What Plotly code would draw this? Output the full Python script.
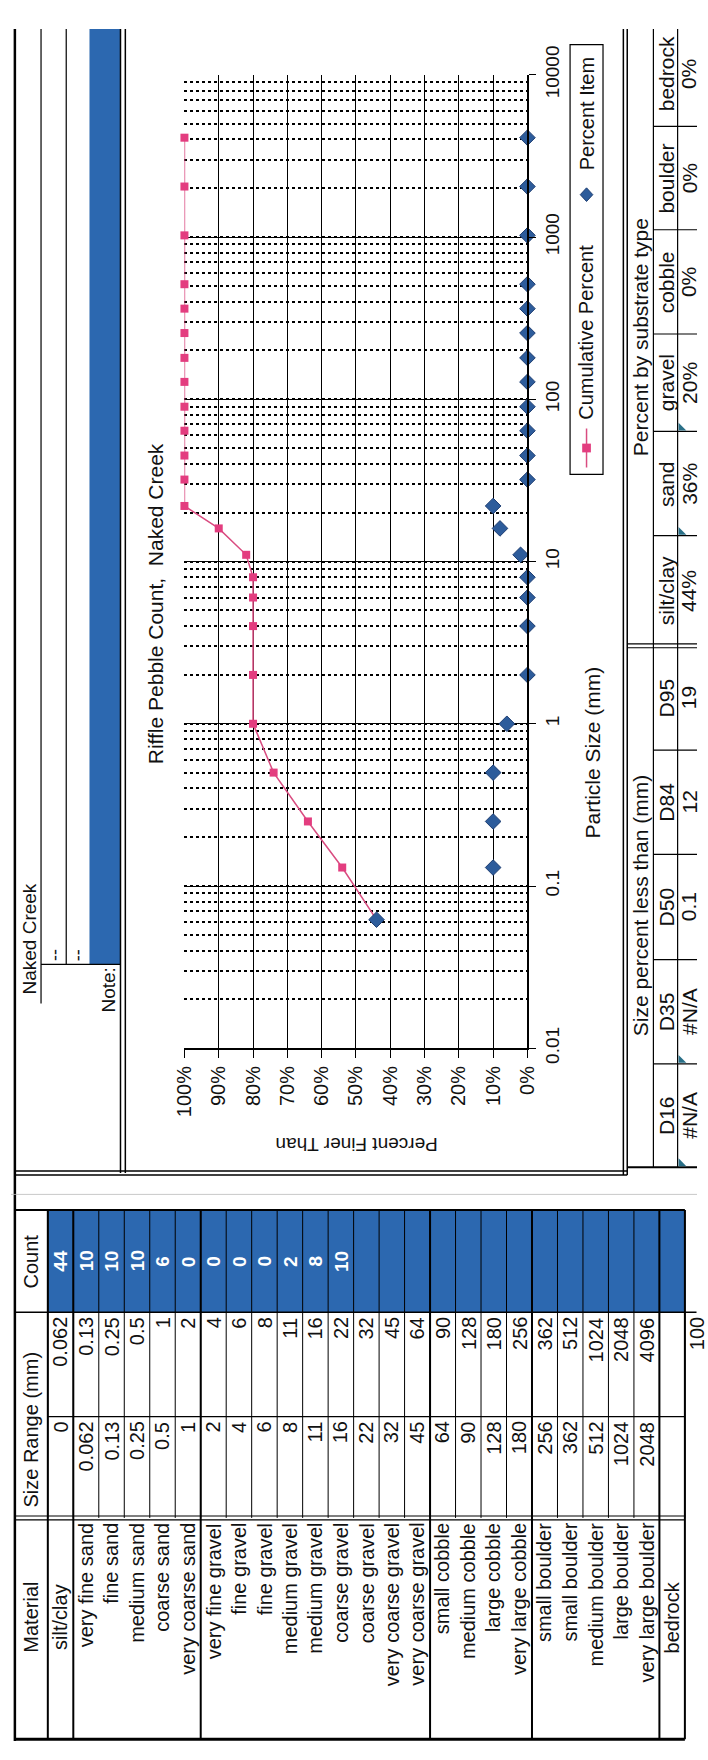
import plotly.graph_objects as go

W, H = 708, 1760
FONT = "Liberation Sans, Arial, sans-serif"

# ---------------- data ----------------
particle_size = [0.062, 0.13, 0.25, 0.5, 1, 2, 4, 6, 8, 11, 16, 22, 32, 45, 64, 90,
                 128, 180, 256, 362, 512, 1024, 2048, 4096]
cumulative_percent = [44, 54, 64, 74, 80, 80, 80, 80, 80, 82, 90, 100, 100, 100, 100, 100,
                      100, 100, 100, 100, 100, 100, 100, 100]
percent_item = [44, 10, 10, 10, 6, 0, 0, 0, 0, 2, 8, 10, 0, 0, 0, 0,
                0, 0, 0, 0, 0, 0, 0, 0]

size_ticks = [0.01, 0.1, 1, 10, 100, 1000, 10000]
size_tick_labels = ["0.01", "0.1", "1", "10", "100", "1000", "10000"]
pct_ticks = [0, 10, 20, 30, 40, 50, 60, 70, 80, 90, 100]
pct_tick_labels = ["0%", "10%", "20%", "30%", "40%", "50%", "60%", "70%", "80%", "90%", "100%"]

materials = ["silt/clay", "very fine sand", "fine sand", "medium sand", "coarse sand",
             "very coarse sand", "very fine gravel", "fine gravel", "fine gravel",
             "medium gravel", "medium gravel", "coarse gravel", "coarse gravel",
             "very coarse gravel", "very coarse gravel", "small cobble", "medium cobble",
             "large cobble", "very large cobble", "small boulder", "small boulder",
             "medium boulder", "large boulder", "very large boulder", "bedrock"]
size_from = ["0", "0.062", "0.13", "0.25", "0.5", "1", "2", "4", "6", "8", "11", "16", "22",
             "32", "45", "64", "90", "128", "180", "256", "362", "512", "1024", "2048", ""]
size_to = ["0.062", "0.13", "0.25", "0.5", "1", "2", "4", "6", "8", "11", "16", "22", "32",
           "45", "64", "90", "128", "180", "256", "362", "512", "1024", "2048", "4096", ""]
counts = ["44", "10", "10", "10", "6", "0", "0", "0", "0", "2", "8", "10", "", "", "", "",
          "", "", "", "", "", "", "", "", ""]
count_total = "100"

dist_labels = ["D16", "D35", "D50", "D84", "D95"]
dist_values = ["#N/A", "#N/A", "0.1", "12", "19"]
substrate_labels = ["silt/clay", "sand", "gravel", "cobble", "boulder", "bedrock"]
substrate_values = ["44%", "36%", "20%", "0%", "0%", "0%"]

# ---------------- helpers (page pixel frame: X right, Y down) ----------------
def px(X):
    return X / W

def py(Y):
    return 1 - Y / H

shapes = []
annotations = []

def seg(X0, Y0, X1, Y1, w=1.0, c="black"):
    shapes.append(dict(type="line", xref="paper", yref="paper",
                       x0=px(X0), y0=py(Y0), x1=px(X1), y1=py(Y1),
                       line=dict(color=c, width=w), layer="above"))

def box(X0, Y0, X1, Y1, fill, w=0, c="black", layer="below"):
    shapes.append(dict(type="rect", xref="paper", yref="paper",
                       x0=px(X0), y0=py(Y0), x1=px(X1), y1=py(Y1),
                       fillcolor=fill, line=dict(color=c, width=w), layer=layer))

def tri(X, Y, s=8, c="#2A7088"):
    shapes.append(dict(type="path", xref="paper", yref="paper",
                       path="M {} {} L {} {} L {} {} Z".format(
                           px(X), py(Y), px(X), py(Y - s), px(X + s), py(Y)),
                       fillcolor=c, line=dict(width=0), layer="above"))

def txt(X, Y, s, size=20, angle=-90, xa="center", ya="middle", color="#111111", bold=False):
    if bold:
        s = "<b>" + s + "</b>"
    annotations.append(dict(x=px(X), y=py(Y), xref="paper", yref="paper", text=s,
                            showarrow=False, textangle=angle, xanchor=xa, yanchor=ya,
                            font=dict(family=FONT, size=size, color=color),
                            borderpad=0))

BLUE = "#2C68B0"
TS = 20  # table font size

# ---------------- header block (top-left) ----------------
box(81, 0, 113, 960, BLUE)
seg(4, 0, 4, 1757, 2.5)
seg(31, 0, 31, 1000, 1.2)
seg(57, 0, 57, 960, 1.2)
seg(31, 960, 113, 960, 1.2)
seg(113, 0, 113, 1174, 1.5)
seg(118, 0, 118, 1174, 1.5)
txt(19, 992, "Naked Creek", 19, ya="bottom")
txt(45, 958, "--", 18, ya="bottom")
txt(69, 958, "--", 18, ya="bottom")
txt(101, 1010, "Note:", 19, ya="bottom")

# chart panel frame
seg(4, 1172, 636, 1172, 1.5)
seg(4, 1176, 636, 1176, 1.5)
seg(632, 0, 632, 1176, 1.5)
seg(636, 0, 636, 1176, 1.5)
seg(0, 1196, 708, 1196, 0.8, "#bbbbbb")

# ---------------- legend (drawn manually, rotated) ----------------
box(577, 16, 611, 457, "white", 1.2, "black", layer="above")
seg(594, 410, 594, 450, 1.5, "#D94C80")
box(589.5, 425.5, 598.5, 434.5, "#E33D7F", 0, layer="above")
shapes.append(dict(type="path", xref="paper", yref="paper",
                   path="M {} {} L {} {} L {} {} L {} {} Z".format(
                       px(594), py(163), px(600.5), py(170), px(594), py(177), px(587.5), py(170)),
                   fillcolor="#2D5C9B", line=dict(color="#1F3F73", width=1), layer="above"))
txt(594, 402, "Cumulative Percent", 20, ya="bottom")
txt(594, 146, "Percent Item", 20, ya="bottom")

# chart titles
txt(150, 590, "Riffle Pebble Count,  Naked Creek", 21)
txt(600, 742, "Particle Size (mm)", 21)
txt(357, 1145, "Percent Finer Than", 19, angle=180)

# ---------------- bottom-right summary tables ----------------
TX0, TX1, TX2, TX3 = 636, 663, 688, 708
seg(TX1, 0, TX1, 1168, 1.2)
seg(TX2, 0, TX2, 1168, 1.2)
seg(TX0, 1168, TX3, 1168, 2)
seg(TX0, 631, TX3, 631, 1.2)
seg(TX0, 635, TX3, 635, 1.2)
sub_bounds = [633, 520, 413, 313, 206, 100, -8]
for b in sub_bounds[1:-1]:
    seg(TX1, b, TX3, b, 1.2)
dist_bounds = [1168, 1062, 955, 847, 740, 633]
for b in dist_bounds[1:-1]:
    seg(TX1, b, TX3, b, 1.2)
txt((TX0 + TX1) / 2 + 1, 316, "Percent by substrate type", 21)
txt((TX0 + TX1) / 2 + 1, 900, "Size percent less than (mm)", 21)
for i, (lab, val) in enumerate(zip(substrate_labels, substrate_values)):
    c = (sub_bounds[i] + sub_bounds[i + 1]) / 2
    txt((TX1 + TX2) / 2 + 1, c, lab, 21)
    txt(700, c, val, 21)
for i, (lab, val) in enumerate(zip(dist_labels, dist_values)):
    c = (dist_bounds[i] + dist_bounds[i + 1]) / 2
    txt((TX1 + TX2) / 2 + 1, c, lab, 21)
    txt(700, c, val, 21)
for Yb in [1168, 1062, 520, 413]:
    tri(TX2 + 1, Yb - 1)

# ---------------- data table (bottom) ----------------
R0, RH = 38, 26.3
Y_TOP, Y_C, Y_M, Y_L, Y_B = 1212, 1317, 1424, 1528, 1755
X_END = R0 + RH * len(materials)
box(R0, Y_TOP, X_END, Y_C, BLUE)
for i in range(len(materials) + 1):
    X = R0 + i * RH
    seg(X, Y_TOP, X, Y_L, 1.0)
for i in [0, 1, 6, 15, 19, 24, 25]:
    X = R0 + i * RH
    seg(X, Y_TOP, X, Y_B, 2.0)
seg(4, Y_TOP, X_END, Y_TOP, 2)
seg(4, Y_C, X_END + 12, Y_C, 1.5)
seg(R0, Y_M, X_END, Y_M, 1.2)
seg(4, Y_L - 2, X_END, Y_L - 2, 1.2)
seg(4, Y_L + 2, X_END, Y_L + 2, 1.2)
seg(4, Y_B, X_END, Y_B, 3)
txt(21, (Y_TOP + Y_C) / 2, "Count", TS)
txt(21, 1518, "Size Range (mm)", TS, ya="bottom")
txt(21, 1630, "Material", TS)
for i, m in enumerate(materials):
    Xc = R0 + (i + 0.5) * RH
    if m in ("silt/clay", "bedrock"):
        txt(Xc, 1630, m, TS)
    else:
        txt(Xc, Y_L + 4, m, TS, ya="top")
    if size_from[i]:
        txt(Xc, Y_M + 4, size_from[i], TS, ya="top")
    if size_to[i]:
        txt(Xc, Y_C + 4, size_to[i], TS, ya="top")
    if counts[i]:
        txt(Xc, (Y_TOP + Y_C) / 2, counts[i], TS - 1, color="white", bold=True)
txt(X_END + 12, Y_C + 4, count_total, TS, ya="top")

# ---------------- chart ----------------
fig = go.Figure()
fig.add_trace(go.Scatter(x=cumulative_percent, y=particle_size, mode="lines+markers",
                         name="Cumulative Percent",
                         line=dict(color="#D94C80", width=1.5),
                         marker=dict(symbol="square", size=8, color="#E33D7F"),
                         cliponaxis=False))
fig.add_trace(go.Scatter(x=percent_item, y=particle_size, mode="markers",
                         name="Percent Item",
                         marker=dict(symbol="diamond", size=12, color="#2D5C9B",
                                     line=dict(color="#1F3F73", width=1)),
                         cliponaxis=False))

PL, PR, PT, PB = 179, 533, 47, 1046
fig.update_layout(
    width=W, height=H, autosize=False,
    margin=dict(l=0, r=0, t=0, b=0, pad=0),
    paper_bgcolor="white", plot_bgcolor="white",
    showlegend=False,
    font=dict(family=FONT, color="black"),
    xaxis=dict(domain=[px(PL), px(PR)], range=[100, 0], anchor="y",
               tickmode="array", tickvals=pct_ticks, ticktext=pct_tick_labels,
               tickangle=-90, ticks="outside", ticklen=8, tickwidth=1.2, tickcolor="black",
               showgrid=True, gridcolor="black", gridwidth=1.2, zeroline=False,
               showline=True, linecolor="black", linewidth=1.5,
               tickfont=dict(family=FONT, size=20, color="#111111")),
    yaxis=dict(domain=[py(PB), py(PT)], type="log", range=[-2, 4], anchor="x", side="right",
               tickmode="array", tickvals=size_ticks, ticktext=size_tick_labels,
               tickangle=-90, ticks="outside", ticklen=7, tickwidth=1.2, tickcolor="black",
               showgrid=True, gridcolor="black", gridwidth=1.4, zeroline=False,
               showline=True, linecolor="black", linewidth=1.5,
               minor=dict(dtick="D1", showgrid=True, gridcolor="black", gridwidth=1.8,
                          griddash="3px,3px", ticks=""),
               tickfont=dict(family=FONT, size=19, color="#111111")),
    shapes=shapes,
    annotations=annotations,
)

fig.write_html("out.html", config={"displayModeBar": False},
               post_script="document.body.style.margin='0';document.body.style.overflow='hidden';")
